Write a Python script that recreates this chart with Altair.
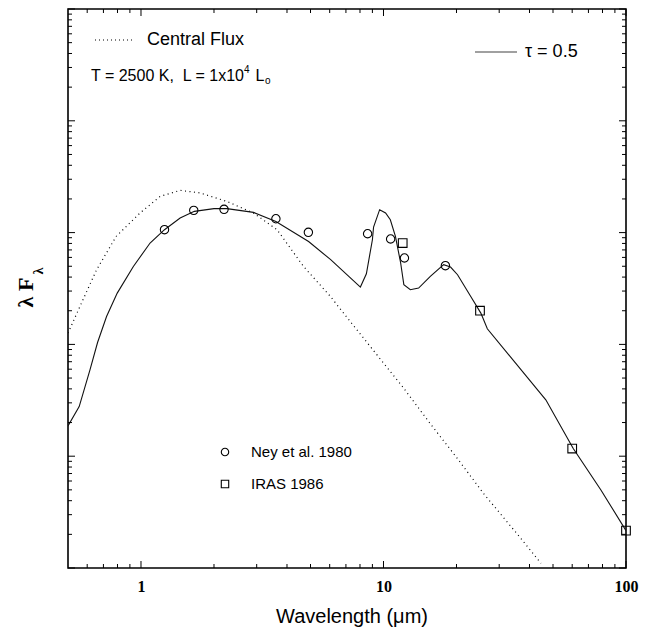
import altair as alt
import pandas as pd

# ---------------- data ----------------
model_wl = [0.5, 0.556, 0.616, 0.662, 0.721, 0.798, 0.93, 1.09, 1.25, 1.45, 1.66, 2.0, 2.26,
            2.91, 3.6, 4.91, 6.04, 8.03, 8.5, 9.0, 9.1, 9.64, 10.2, 10.67, 11.2, 11.77, 12.13,
            12.9, 13.96, 15.6, 17.7, 18.9, 20.2, 22.9, 25.2, 26.8, 46.7, 60.6, 78.8, 100]
model_flux = [18.66, 27.8, 59.29, 104.0, 177.8, 287.7, 497.7, 807.2, 1061.7, 1352, 1549, 1637, 1637,
              1517, 1259, 831.8, 575.4, 325.8, 428.5, 863.0, 1122, 1603, 1496, 1303, 924.7, 534.6, 342.0,
              308.3, 319.2, 405.5, 516.4, 492.0, 419.8, 268.5, 190.5, 138.0, 31.92, 11.70, 4.99, 2.16]

central_wl = [0.5, 0.56, 0.656, 0.79, 0.99, 1.2, 1.45, 1.75, 2.26, 2.91, 3.64, 4.68, 6.04, 7.66,
              12, 15.6, 20, 26, 36.8, 44.6]
central_flux = [126.2, 218.3, 465.6, 924.7, 1496, 2109, 2388, 2265, 1901, 1496, 1062, 497.7, 268.5, 140.0,
                41.7, 19.5, 9.77, 4.57, 1.845, 1.10]

ney_wl = [1.25, 1.65, 2.2, 3.6, 4.9, 8.6, 10.7, 12.2, 18.0]
ney_flux = [1062, 1581, 1614, 1330, 1005, 977, 877, 593, 506]

iras_wl = [12, 25, 60, 100]
iras_flux = [807, 200, 11.7, 2.16]

x_major = [1, 10, 100]
x_minor = [0.6, 0.7, 0.8, 0.9, 2, 3, 4, 5, 6, 7, 8, 9, 20, 30, 40, 50, 60, 70, 80, 90]
y_major = [1, 10, 100, 1000, 10000, 100000]
y_minor = [m * d for d in [1, 10, 100, 1000, 10000] for m in range(2, 10)]

# ---------------- layout ----------------
W, H = 558, 559
SANS = "Liberation Sans"
SERIF = "Liberation Serif"

xs = alt.Scale(type="log", domain=[0.5, 100], nice=False)
ys = alt.Scale(type="log", domain=[1, 100000], nice=False)


def X(field):
    return alt.X(field, type="quantitative", scale=xs, title=None,
                 axis=alt.Axis(values=x_major, format="d", ticks=False, domain=False, grid=False,
                               labelFlush=False, labelOverlap=False,
                               labelFont=SERIF, labelFontWeight="bold", labelFontSize=16,
                               labelColor="black", labelPadding=10))


def Y(field):
    return alt.Y(field, type="quantitative", scale=ys, title=None, axis=None)


one = pd.DataFrame({"d": [0]})

model_df = pd.DataFrame({"wl": model_wl, "f": model_flux})
central_df = pd.DataFrame({"wl": central_wl, "f": central_flux})
ney_df = pd.DataFrame({"wl": ney_wl, "f": ney_flux})
iras_df = pd.DataFrame({"wl": iras_wl, "f": iras_flux})

layers = []

central = alt.Chart(central_df).mark_line(color="black", strokeWidth=1.2, strokeDash=[1, 3.5],
                                           clip=True).encode(x=X("wl"), y=Y("f"))
model = alt.Chart(model_df).mark_line(color="#111111", strokeWidth=1.1, clip=True).encode(
    x=X("wl"), y=Y("f"))
ney = alt.Chart(ney_df).mark_point(shape="circle", filled=False, size=70, color="black",
                                   strokeWidth=1.1, opacity=1).encode(x=X("wl"), y=Y("f"))
iras = alt.Chart(iras_df).mark_point(shape="square", filled=False, size=75, color="black",
                                     strokeWidth=1.1, opacity=1).encode(x=X("wl"), y=Y("f"))
layers += [central, model, ney, iras]


def xticks(vals, length):
    df = pd.DataFrame({"v": vals})
    bottom = alt.Chart(df).mark_rule(color="black", strokeWidth=1).encode(
        x=X("v"), y=alt.value(H), y2=alt.value(H - length))
    top = alt.Chart(df).mark_rule(color="black", strokeWidth=1).encode(
        x=X("v"), y=alt.value(0), y2=alt.value(length))
    return [bottom, top]


def yticks(vals, length):
    df = pd.DataFrame({"v": vals})
    left = alt.Chart(df).mark_rule(color="black", strokeWidth=1).encode(
        y=Y("v"), x=alt.value(0), x2=alt.value(length))
    right = alt.Chart(df).mark_rule(color="black", strokeWidth=1).encode(
        y=Y("v"), x=alt.value(W), x2=alt.value(W - length))
    return [left, right]


layers += xticks(x_major, 7) + xticks(x_minor, 4) + yticks(y_major, 7) + yticks(y_minor, 4)


def label(text, x, y, size, font=SANS, weight="normal", align="left", angle=0, color="black"):
    kw = dict(font=font, fontSize=size, fontWeight=weight, align=align, baseline="middle",
              color=color)
    if angle:
        kw["angle"] = angle
    return alt.Chart(pd.DataFrame({"t": [text]})).mark_text(**kw).encode(
        x=alt.value(x), y=alt.value(y), text="t:N")


# legend: central flux
layers.append(alt.Chart(one).mark_rule(color="black", strokeWidth=1.2, strokeDash=[1, 3]).encode(
    x=alt.value(27), x2=alt.value(67), y=alt.value(31)))
layers.append(label("Central Flux", 79, 31, 18))
layers.append(label("T = 2500 K,\u00a0 L = 1x10", 23, 67, 16))
layers.append(label("4", 176, 61, 10))
layers.append(label("L", 187.5, 67, 16))
layers.append(label("o", 197, 72, 10))

# legend: tau
layers.append(alt.Chart(one).mark_rule(color="#a0a0a0", strokeWidth=2).encode(
    x=alt.value(407), x2=alt.value(449), y=alt.value(43)))
layers.append(label("\u03c4 = 0.5", 457, 43, 18))

# legend: symbols
layers.append(alt.Chart(one).mark_point(shape="circle", filled=False, size=55, color="black",
                                        strokeWidth=1.1, opacity=1).encode(
    x=alt.value(157), y=alt.value(443)))
layers.append(label("Ney et al. 1980", 183, 443, 15))
layers.append(alt.Chart(one).mark_point(shape="square", filled=False, size=55, color="black",
                                        strokeWidth=1.1, opacity=1).encode(
    x=alt.value(157), y=alt.value(475)))
layers.append(label("IRAS 1986", 183, 475, 15))

# axis titles
layers.append(label("Wavelength (\u03bcm)", 284, 608, 20, align="center"))
layers.append(label("\u03bb F", -42, 283.5, 22, font=SERIF, weight="bold", align="center", angle=270))
layers.append(label("\u03bb", -29, 262, 14, font=SERIF, weight="bold", align="center", angle=270))

chart = alt.layer(*layers).properties(
    width=W, height=H,
    autosize=alt.AutoSizeParams(type="none"),
    padding={"left": 68, "top": 9, "right": 25, "bottom": 65},
    background="white",
).configure_view(stroke="black", strokeWidth=1.6).configure_axis(grid=False)

chart.save("out.html", embed_options={"renderer": "svg", "actions": False})
